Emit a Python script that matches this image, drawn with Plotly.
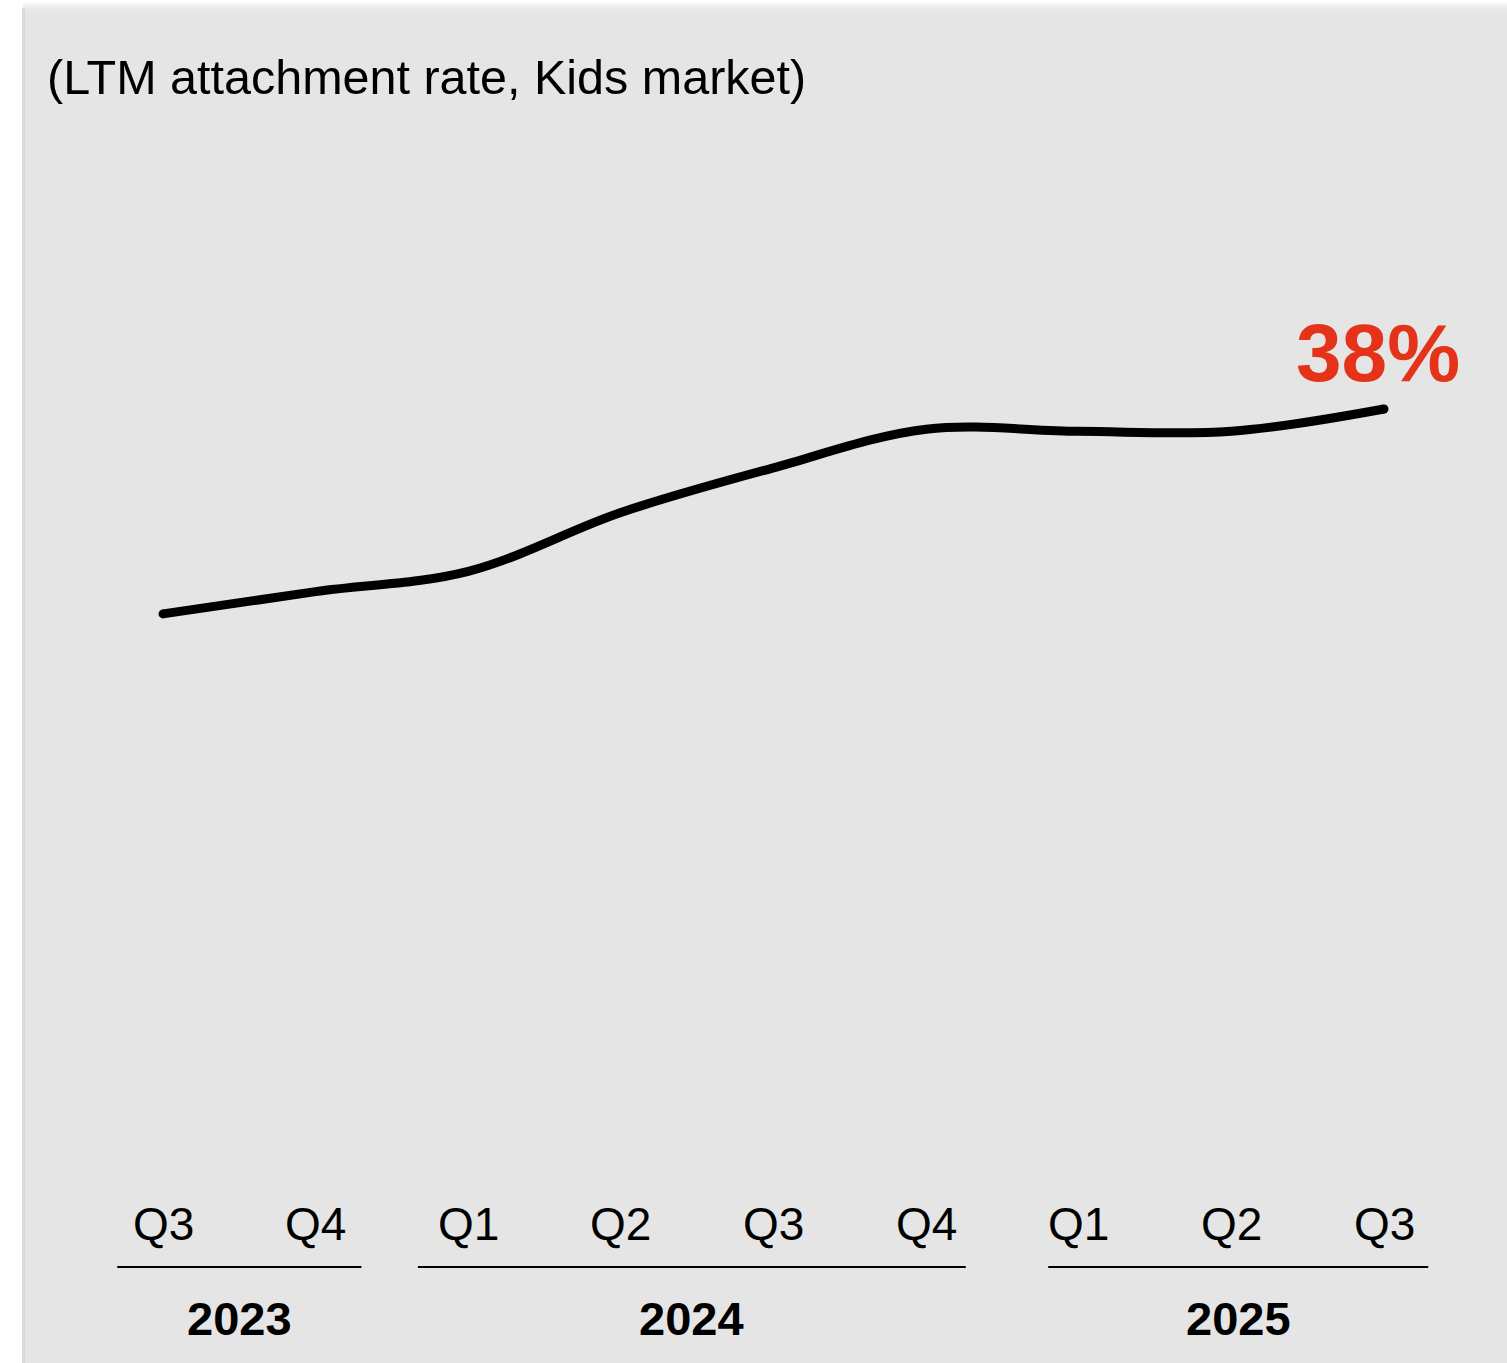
import plotly.graph_objects as go

# Quarterly LTM attachment rate (%), Kids market
quarters = ["Q3", "Q4", "Q1", "Q2", "Q3", "Q4", "Q1", "Q2", "Q3"]
rates = [27.9, 29.0, 30.0, 32.9, 35.1, 37.0, 36.9, 36.9, 38.0]

# Year groupings: label, first and last quarter index
years = ["2023", "2024", "2025"]
year_first = [0, 2, 6]
year_last = [1, 5, 8]

W, H = 1507, 1363
FONT = "Liberation Sans, Arial, sans-serif"

idx = list(range(len(quarters)))

# Horizontal layout: category spacing and left offset in pixels
step = 152.625
x0_px = 163
x_lo = -x0_px / step
x_hi = x_lo + W / step

# Vertical layout: 0% baseline pixel and pixels per percentage point
zero_px = 1180
ppp = 20.29
y_hi = zero_px / ppp
y_lo = -(H - zero_px) / ppp


def px_x(p):
    return p / W


def px_y(p):
    return 1 - p / H


fig = go.Figure()

fig.add_trace(go.Scatter(
    x=idx, y=rates, mode="lines",
    line=dict(color="black", width=9, shape="spline", smoothing=1.0),
    hoverinfo="skip", showlegend=False,
))
# rounded line ends
fig.add_trace(go.Scatter(
    x=[idx[0], idx[-1]], y=[rates[0], rates[-1]], mode="markers",
    marker=dict(color="black", size=9, line=dict(width=0)),
    hoverinfo="skip", showlegend=False,
))

shapes = []
# panel background with soft top/left edge
shapes.append(dict(type="rect", xref="paper", yref="paper",
                   x0=px_x(23), x1=1, y0=0, y1=px_y(2),
                   fillcolor="#f6f6f6", line=dict(width=0), layer="below"))
shapes.append(dict(type="rect", xref="paper", yref="paper",
                   x0=px_x(23), x1=1, y0=0, y1=px_y(5),
                   fillcolor="#eeeeee", line=dict(width=0), layer="below"))
shapes.append(dict(type="rect", xref="paper", yref="paper",
                   x0=px_x(23), x1=1, y0=0, y1=px_y(8),
                   fillcolor="#e9e9e9", line=dict(width=0), layer="below"))
shapes.append(dict(type="rect", xref="paper", yref="paper",
                   x0=px_x(23), x1=1, y0=0, y1=px_y(11),
                   fillcolor="#e5e5e5", line=dict(width=0), layer="below"))
shapes.append(dict(type="rect", xref="paper", yref="paper",
                   x0=px_x(22), x1=px_x(25), y0=0, y1=px_y(8),
                   fillcolor="#dadada", line=dict(width=0), layer="below"))

# year group underlines
line_pad_left = [0.30, 0.33, 0.20]
line_pad_right = [0.30, 0.26, 0.29]
annotations = []
for yr, a, b, pl, pr in zip(years, year_first, year_last, line_pad_left, line_pad_right):
    xa, xb = a - pl, b + pr
    shapes.append(dict(type="line", xref="x", yref="paper",
                       x0=xa, x1=xb, y0=px_y(1267), y1=px_y(1267),
                       line=dict(color="black", width=2)))
    annotations.append(dict(x=(xa + xb) / 2, y=px_y(1318), xref="x", yref="paper",
                            text=f"<b>{yr}</b>", showarrow=False,
                            xanchor="center", yanchor="middle",
                            font=dict(family=FONT, size=47, color="black")))

# quarter labels
for i, q in zip(idx, quarters):
    annotations.append(dict(x=i, y=px_y(1224), xref="x", yref="paper",
                            text=q, showarrow=False,
                            xanchor="center", yanchor="middle",
                            font=dict(family=FONT, size=46, color="black")))

# subtitle
annotations.append(dict(x=px_x(45), y=px_y(77), xref="paper", yref="paper",
                        text="(LTM attachment rate, Kids market)", showarrow=False,
                        xanchor="left", yanchor="middle",
                        font=dict(family=FONT, size=48.5, color="black")))

# latest value callout
annotations.append(dict(x=idx[-1], y=rates[-1], xref="x", yref="y",
                        text=f"<b>{rates[-1]:.0f}%</b>", showarrow=False,
                        xanchor="center", yanchor="middle",
                        xshift=-6, yshift=56,
                        font=dict(family=FONT, size=82, color="#e5331a")))

fig.update_layout(
    width=W, height=H,
    margin=dict(l=0, r=0, t=0, b=0),
    paper_bgcolor="white",
    plot_bgcolor="rgba(0,0,0,0)",
    shapes=shapes,
    annotations=annotations,
    xaxis=dict(range=[x_lo, x_hi], visible=False, fixedrange=True),
    yaxis=dict(range=[y_lo, y_hi], visible=False, fixedrange=True),
    showlegend=False,
)

fig.write_html("out.html", config={"displayModeBar": False})
